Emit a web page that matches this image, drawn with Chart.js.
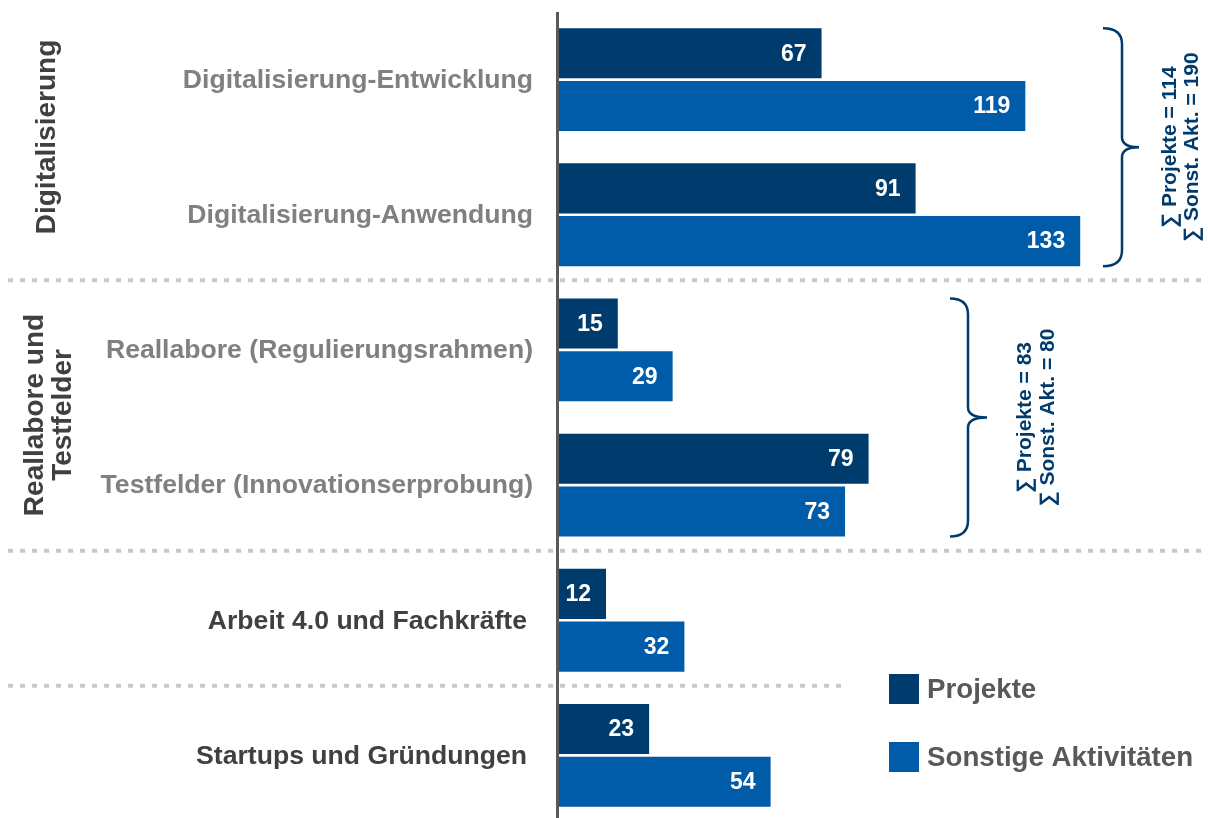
<!DOCTYPE html>
<html>
<head>
<meta charset="utf-8">
<script src="https://cdn.jsdelivr.net/npm/chart.js@4"></script>
<style>
  html, body { margin: 0; padding: 0; background: #fff; overflow: hidden; }
  canvas { display: block; }
</style>
</head>
<body>
<canvas id="chart" width="1208" height="830"></canvas>
<script>
const categories = [
	'Digitalisierung-Entwicklung',
	'Digitalisierung-Anwendung',
	'Reallabore (Regulierungsrahmen)',
	'Testfelder (Innovationserprobung)',
	'Arbeit 4.0 und Fachkräfte',
	'Startups und Gründungen'
];
const projekte = [67, 91, 15, 79, 12, 23];
const sonstige = [119, 133, 29, 73, 32, 54];

// Gruppen (Kategorie-Index von/bis) und ihre Summen laut Vorlage
const groupNames = [['Digitalisierung'], ['Reallabore und', 'Testfelder']];
const groupFrom = [0, 2];
const groupTo = [1, 3];
const groupSumProjekte = [114, 83];
const groupSumSonstige = [190, 80];

const FONT = '"Liberation Sans", Arial, sans-serif';
const NAVY = '#003b6e';
const BLUE = '#005ba8';

const annotations = {
	id: 'annotations',
	afterDatasetsDraw(chart, args, opts) {
		const ctx = chart.ctx;
		const y = chart.scales.y;
		const area = chart.chartArea;
		const metaP = chart.getDatasetMeta(0);
		const metaS = chart.getDatasetMeta(1);

		// Werte in den Balken
		ctx.save();
		ctx.fillStyle = '#fff';
		ctx.font = 'bold 23px ' + FONT;
		ctx.textAlign = 'right';
		ctx.textBaseline = 'middle';
		[metaP, metaS].forEach(function (meta, d) {
			meta.data.forEach(function (bar, i) {
				ctx.fillText(chart.data.datasets[d].data[i], bar.x - 15, bar.y + 1);
			});
		});
		ctx.restore();

		// gestrichelte Trennlinien
		ctx.save();
		ctx.strokeStyle = '#c9c9c9';
		ctx.lineWidth = 4;
		ctx.setLineDash([5, 7]);
		opts.separators.forEach(function (s) {
			const py = (y.getPixelForValue(s.after) + y.getPixelForValue(s.after + 1)) / 2 - 2;
			ctx.beginPath();
			ctx.moveTo(8, py);
			ctx.lineTo(s.right, py);
			ctx.stroke();
		});
		ctx.restore();

		// Achsenlinie
		ctx.save();
		ctx.strokeStyle = '#595959';
		ctx.lineWidth = 3;
		ctx.beginPath();
		ctx.moveTo(area.left - 1.5, area.top);
		ctx.lineTo(area.left - 1.5, chart.height);
		ctx.stroke();
		ctx.restore();

		// Kategorienamen
		ctx.save();
		ctx.font = 'bold 26.6px ' + FONT;
		ctx.textAlign = 'right';
		ctx.textBaseline = 'middle';
		categories.forEach(function (c, i) {
			let inGroup = false;
			groupFrom.forEach(function (f, g) { if (i >= f && i <= groupTo[g]) inGroup = true; });
			ctx.fillStyle = inGroup ? '#808080' : '#404040';
			ctx.fillText(c, inGroup ? 533 : 527, y.getPixelForValue(i) + 1);
		});
		ctx.restore();

		// Gruppen: senkrechte Titel, Klammern, Summen
		groupNames.forEach(function (lines, g) {
			const top = metaP.data[groupFrom[g]].y - metaP.data[groupFrom[g]].height / 2;
			const bot = metaS.data[groupTo[g]].y + metaS.data[groupTo[g]].height / 2;
			const mid = (y.getPixelForValue(groupFrom[g]) + y.getPixelForValue(groupTo[g])) / 2;

			ctx.save();
			ctx.fillStyle = '#404040';
			ctx.font = 'bold 28px ' + FONT;
			ctx.textAlign = 'center';
			ctx.textBaseline = 'middle';
			const gx = opts.groupTitleX[g];
			lines.forEach(function (t, k) {
				ctx.save();
				ctx.translate(gx[k], opts.groupTitleY[g]);
				ctx.rotate(-Math.PI / 2);
				ctx.fillText(t, 0, 0);
				ctx.restore();
			});
			ctx.restore();

			const b = opts.braces[g];
			const r = 16;
			ctx.save();
			ctx.strokeStyle = NAVY;
			ctx.lineWidth = 2.5;
			ctx.beginPath();
			ctx.moveTo(b.x0, top);
			ctx.quadraticCurveTo(b.xs, top, b.xs, top + r);
			ctx.lineTo(b.xs, mid - 10);
			ctx.quadraticCurveTo(b.xs, mid, b.xt, mid);
			ctx.quadraticCurveTo(b.xs, mid, b.xs, mid + 10);
			ctx.lineTo(b.xs, bot - r);
			ctx.quadraticCurveTo(b.xs, bot, b.x0, bot);
			ctx.stroke();

			ctx.fillStyle = NAVY;
			ctx.font = 'bold 21px ' + FONT;
			ctx.textAlign = 'center';
			ctx.textBaseline = 'middle';
			const texts = ['\u2211 Projekte = ' + groupSumProjekte[g], '\u2211 Sonst. Akt. = ' + groupSumSonstige[g]];
			texts.forEach(function (t, k) {
				ctx.save();
				ctx.translate(b.textX[k], mid);
				ctx.rotate(-Math.PI / 2);
				ctx.fillText(t, 0, 0);
				ctx.restore();
			});
			ctx.restore();
		});

		// Legende
		ctx.save();
		ctx.font = 'bold 27.7px ' + FONT;
		ctx.textAlign = 'left';
		ctx.textBaseline = 'middle';
		chart.data.datasets.forEach(function (ds, d) {
			const ly = opts.legendY[d];
			ctx.fillStyle = ds.backgroundColor;
			ctx.fillRect(889, ly - 15, 30, 30);
			ctx.fillStyle = '#595959';
			ctx.fillText(ds.label, 927, ly + 1);
		});
		ctx.restore();
	}
};

new Chart(document.getElementById('chart'), {
	type: 'bar',
	data: {
		labels: categories,
		datasets: [
			{
				label: 'Projekte',
				data: projekte,
				backgroundColor: NAVY,
				categoryPercentage: 0.78,
				barPercentage: 0.95
			},
			{
				label: 'Sonstige Aktivitäten',
				data: sonstige,
				backgroundColor: BLUE,
				categoryPercentage: 0.78,
				barPercentage: 0.95
			}
		]
	},
	options: {
		indexAxis: 'y',
		responsive: false,
		animation: false,
		layout: {
			padding: { left: 559, right: 22, top: 12, bottom: 7 }
		},
		scales: {
			x: { display: false, min: 0, max: 160 },
			y: { display: false }
		},
		plugins: {
			legend: { display: false },
			tooltip: { enabled: false },
			annotations: {
				separators: [
					{ after: 1, right: 1208 },
					{ after: 3, right: 1208 },
					{ after: 4, right: 842 }
				],
				groupTitleX: [[47], [35, 63]],
				groupTitleY: [137, 415],
				braces: [
					{ x0: 1103, xs: 1122, xt: 1139, textX: [1170, 1192] },
					{ x0: 950, xs: 968, xt: 987, textX: [1025, 1048] }
				],
				legendY: [689, 757]
			}
		}
	},
	plugins: [annotations]
});
</script>
</body>
</html>
